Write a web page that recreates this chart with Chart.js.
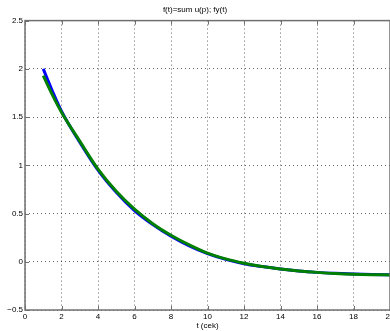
<!DOCTYPE html>
<html>
<head>
<meta charset="utf-8">
<script src="https://cdn.jsdelivr.net/npm/chart.js@4"></script>
<style>
  html, body { margin: 0; padding: 0; overflow: hidden; background: #fff; }
  #wrap { width: 400px; height: 331px; }
</style>
</head>
<body>
<div id="wrap"><canvas id="chart" width="400" height="331"></canvas></div>
<script>
// time samples (sec) and the two responses
var tValues = [1, 1.5, 2, 3, 4, 5, 6, 7, 8, 9, 10, 11, 12, 13, 14, 15, 16, 17, 18, 19, 20];
var sumValues = [2.00, 1.77, 1.56, 1.24, 0.95, 0.72, 0.53, 0.385, 0.265, 0.165, 0.085, 0.025, -0.02, -0.05, -0.075, -0.095, -0.11, -0.12, -0.127, -0.132, -0.135];
var fyValues = [1.93, 1.73, 1.55, 1.25, 0.96, 0.73, 0.545, 0.395, 0.275, 0.175, 0.09, 0.03, -0.015, -0.05, -0.075, -0.095, -0.11, -0.122, -0.13, -0.134, -0.136];
var xTicks = [0, 2, 4, 6, 8, 10, 12, 14, 16, 18, 20];
var yTicks = [-0.5, 0, 0.5, 1, 1.5, 2, 2.5];

function toPoints(xs, ys) {
    return xs.map(function (x, i) { return { x: x, y: ys[i] }; });
}

var fontFamily = '"Liberation Sans", Arial, sans-serif';

// matlab style box with inward tick marks
var boxPlugin = {
    id: 'box',
    afterDraw: function (chart) {
        var ctx = chart.ctx;
        var a = chart.chartArea;
        var xs = chart.scales.x, ys = chart.scales.y;
        ctx.save();
        ctx.strokeStyle = '#707070';
        ctx.lineWidth = 1.5;
        ctx.strokeRect(a.left, a.top, a.right - a.left, a.bottom - a.top);
        ctx.lineWidth = 1;
        ctx.beginPath();
        xTicks.forEach(function (v) {
            var px = Math.round(xs.getPixelForValue(v)) + 0.5;
            ctx.moveTo(px, a.bottom); ctx.lineTo(px, a.bottom - 4);
            ctx.moveTo(px, a.top); ctx.lineTo(px, a.top + 4);
        });
        yTicks.forEach(function (v) {
            var py = Math.round(ys.getPixelForValue(v)) + 0.5;
            ctx.moveTo(a.left, py); ctx.lineTo(a.left + 4, py);
        });
        ctx.stroke();
        ctx.restore();
    }
};

new Chart(document.getElementById('chart'), {
    type: 'line',
    data: {
        datasets: [{
            data: toPoints(tValues, sumValues),
            borderColor: '#0000ff',
            borderWidth: 3,
            pointRadius: 0,
            cubicInterpolationMode: 'monotone',
            order: 2
        }, {
            data: toPoints(tValues, fyValues),
            borderColor: '#008000',
            borderWidth: 3,
            pointRadius: 0,
            cubicInterpolationMode: 'monotone',
            order: 1
        }]
    },
    options: {
        responsive: false,
        animation: false,
        layout: { padding: { left: 0, right: 10, top: 0, bottom: 0 } },
        plugins: {
            legend: { display: false },
            tooltip: { enabled: false },
            title: {
                display: true,
                text: 'f(t)=sum u(p); fy(t)',
                color: '#000',
                font: { family: fontFamily, size: 8, weight: 'normal' },
                padding: { top: 5, bottom: 6 }
            }
        },
        scales: {
            x: {
                type: 'linear',
                min: 0,
                max: 20,
                afterBuildTicks: function (scale) {
                    scale.ticks = xTicks.map(function (v) { return { value: v }; });
                },
                afterFit: function (scale) { scale.height = 21; },
                border: { display: false, dash: [1, 3] },
                grid: { color: 'rgba(0,0,0,0.6)', drawTicks: false, lineWidth: 1 },
                ticks: {
                    color: '#000',
                    padding: 2,
                    maxRotation: 0,
                    font: { family: fontFamily, size: 8 }
                },
                title: {
                    display: true,
                    text: 't (cek)',
                    color: '#000',
                    font: { family: fontFamily, size: 8 },
                    padding: { top: 0, bottom: 0 }
                }
            },
            y: {
                type: 'linear',
                min: -0.5,
                max: 2.5,
                afterBuildTicks: function (scale) {
                    scale.ticks = yTicks.map(function (v) { return { value: v }; });
                },
                afterFit: function (scale) { scale.width = 25; },
                border: { display: false, dash: [1, 3] },
                grid: { color: 'rgba(0,0,0,0.6)', drawTicks: false, lineWidth: 1 },
                ticks: {
                    color: '#000',
                    padding: 2,
                    font: { family: fontFamily, size: 8 },
                    callback: function (v) { return String(v).replace('-', '\u2212'); }
                }
            }
        }
    },
    plugins: [boxPlugin]
});
</script>
</body>
</html>
